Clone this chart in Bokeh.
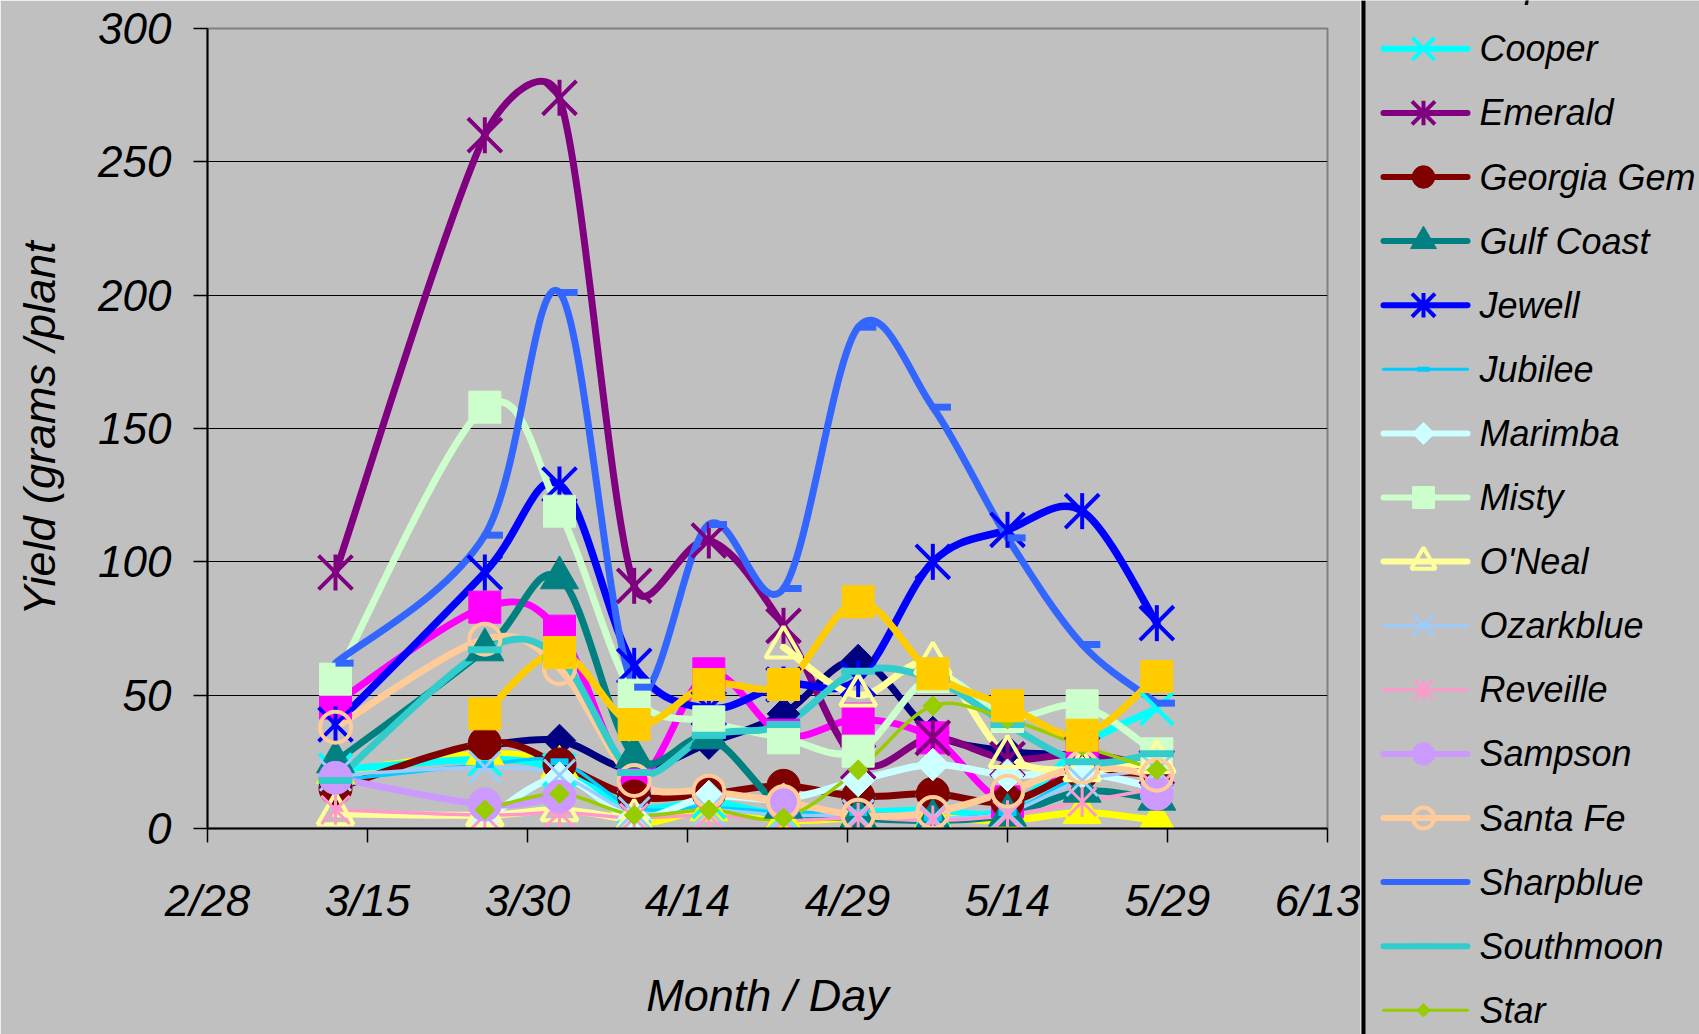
import numpy as np
import pandas as pd
from bokeh.plotting import figure
from bokeh.models import Range1d, FixedTicker, ColumnDataSource, Span
from bokeh.layouts import row
from bokeh.core.properties import value
from bokeh.transform import dodge
from bokeh.embed import file_html
from bokeh.resources import INLINE

# ---------------- data ----------------
dates = ["3/12", "3/26", "4/2", "4/9", "4/16", "4/23", "4/30", "5/7", "5/14", "5/21", "5/28"]
tick_labels = ["2/28", "3/15", "3/30", "4/14", "4/29", "5/14", "5/29", "6/13"]

bladen      = [None, 31, 33, 22, 32, 43, 63, 36, 29, 27, 20]
blueridge   = [47, 83, 74, 19, 58, 35, 41, 34, 10, 27, 22]
cape_fear   = [21, 28, 23, 3, 7, 3, 4, 4, 3, 6, 3]
cooper      = [22, 26, 22, 8, 10, 5, 6, 7, 7, 31, 45]
emerald     = [96, 260, 274, 91, 108, 76, 25, 34, 26, 28, 23]
georgia_gem = [15, 32, 24, 12, 13, 16, 12, 13, 10, 21, 20]
gulf_coast  = [25, 67, 94, 27, 34, 8, 4, 3, 5, 14, 11]
jewell      = [39, 96, 129, 61, 45, 54, 56, 100, 112, 119, 77]
jubilee     = [18, 24, 25, 8, 8, 6, 6, 4, 6, 20, 25]
marimba     = [None, 3, 19, 4, 12, 11, 18, 24, 20, 21, 15]
misty       = [56, 158, 119, 50, 40, 34, 29, 57, 42, 46, 28]
oneal       = [5.5, 5, 7, 3, None, 68, 50, 62, 27, 22, 25]
ozarkblue   = [20, 23, 20, 6, 7, 5, 5, 4, 6, 18, 22]
reveille    = [7, 5, 6, 4, 5, 3, 4, 3, 5, 10, 15]
sampson     = [19, 9, 12, None, None, 9, None, None, None, None, 13]
santa_fe    = [38, 71, 60, 18, 14, 10, 5, 6, 14, 23, 20]
sharpblue   = [62, 110, 201, 53, 114, 90, 188, 158, 109, 69, 47]
southmoon   = [18, 67, 64, 21, 35, 39, 59, 56, 39, 25, 28]
star        = [None, 7, 13, 5, 7, 4, 22, 46, 41, 31, 22]
windsor     = [None, 43, 66, 39, 54, 54, 85, 58, 46, 35, 57]

series_names = ["Bladen", "Blueridge", "Cape Fear", "Cooper", "Emerald", "Georgia Gem",
                "Gulf Coast", "Jewell", "Jubilee", "Marimba", "Misty", "O'Neal",
                "Ozarkblue", "Reveille", "Sampson", "Santa Fe", "Sharpblue",
                "Southmoon", "Star", "Windsor"]
series_values = [bladen, blueridge, cape_fear, cooper, emerald, georgia_gem, gulf_coast,
                 jewell, jubilee, marimba, misty, oneal, ozarkblue, reveille, sampson,
                 santa_fe, sharpblue, southmoon, star, windsor]

# ---------------- styles ----------------
colors = ["#000080", "#FF00FF", "#FFFF00", "#00FFFF", "#800080", "#800000", "#008080",
          "#0000FF", "#00CCFF", "#CCFFFF", "#CCFFCC", "#FFFF99", "#99CCFF", "#FF99CC",
          "#CC99FF", "#FFCC99", "#3366FF", "#33CCCC", "#99CC00", "#FFCC00"]
# (kind, size, marker line width)
markers = [("diamond", 23, 1), ("square", 32, 1), ("triangle", 38, 1), ("x", 46, 4),
           ("asterisk", 36, 4), ("circle", 33, 1), ("triangle", 38, 1), ("asterisk", 36, 4),
           ("dash", 18, 7), ("diamond", 23, 1), ("square", 32, 1), ("otriangle", 36, 4),
           ("x", 44, 3), ("asterisk", 30, 3), ("circle", 33, 1), ("ocircle", 31, 4),
           ("rdash", 18, 7), ("dash", 34, 7), ("diamond", 14, 1), ("square", 32, 1)]
line_widths = [7, 7, 7, 7, 7, 7, 7, 7.5, 3.5, 7, 7, 7, 3.5, 3.5, 7, 7, 7, 7, 3.5, 7]

BG = "#C0C0C0"
FONT = "Liberation Sans"

base = pd.Timestamp("2001-02-28")


def to_day(s):
    m, d = s.split("/")
    return float((pd.Timestamp(year=2001, month=int(m), day=int(d)) - base).days)


xd = np.array([to_day(s) for s in dates])
tick_days = [to_day(s) for s in tick_labels]

X0, X1 = tick_days[0], tick_days[-1]
Y0, Y1 = 0, 300
FW, FH = 1120, 800
SX, SY = FW / (X1 - X0), FH / (Y1 - Y0)


def runs(xs, ys):
    """split a series into contiguous runs of present values"""
    out, cur = [], []
    for x, y in zip(xs, ys):
        if y is None:
            if cur:
                out.append(cur)
            cur = []
        else:
            cur.append((x, y))
    if cur:
        out.append(cur)
    return out


def smooth(run_list):
    out = {k: [] for k in ("x0", "y0", "x1", "y1", "cx0", "cy0", "cx1", "cy1")}
    for r in run_list:
        P = np.array([[x * SX, y * SY] for x, y in r])
        n = len(P)
        for i in range(n - 1):
            p0, p1, p2, p3 = P[max(i - 1, 0)], P[i], P[i + 1], P[min(i + 2, n - 1)]
            L = np.hypot(*(p2 - p1))
            a = (p2 - p0) / 6.0
            b = (p3 - p1) / 6.0
            for v in (a, b):
                lv = np.hypot(*v)
                if lv > L / 2 and lv > 0:
                    v *= (L / 2) / lv
            c1, c2 = p1 + a, p2 - b
            out["x0"].append(p1[0] / SX); out["y0"].append(p1[1] / SY)
            out["x1"].append(p2[0] / SX); out["y1"].append(p2[1] / SY)
            out["cx0"].append(c1[0] / SX); out["cy0"].append(c1[1] / SY)
            out["cx1"].append(c2[0] / SX); out["cy1"].append(c2[1] / SY)
    return ColumnDataSource(out)


def draw_marker(fig, src, kind, size, lw, color, dash_offset=None):
    if kind == "diamond":
        fig.scatter("x", "y", source=src, marker="square", angle=np.pi / 4, size=size,
                    fill_color=color, line_color=color, line_width=lw)
    elif kind == "square":
        fig.scatter("x", "y", source=src, marker="square", size=size,
                    fill_color=color, line_color=color, line_width=lw)
    elif kind == "triangle":
        fig.scatter("x", "y", source=src, marker="triangle", size=size,
                    fill_color=color, line_color=color, line_width=lw)
    elif kind == "otriangle":
        fig.scatter("x", "y", source=src, marker="triangle", size=size,
                    fill_color=None, line_color=color, line_width=lw)
    elif kind == "circle":
        fig.scatter("x", "y", source=src, marker="circle", size=size,
                    fill_color=color, line_color=color, line_width=lw)
    elif kind == "ocircle":
        fig.scatter("x", "y", source=src, marker="circle", size=size,
                    fill_color=None, line_color=color, line_width=lw)
    elif kind == "x":
        fig.scatter("x", "y", source=src, marker="x", size=size,
                    line_color=color, line_width=lw)
    elif kind == "asterisk":
        fig.scatter("x", "y", source=src, marker="x", size=size * 1.33,
                    line_color=color, line_width=lw)
        fig.scatter("x", "y", source=src, marker="dash", angle=np.pi / 2, size=size,
                    line_color=color, line_width=lw)
    elif kind == "dash":
        fig.scatter("x", "y", source=src, marker="dash", size=size,
                    line_color=color, line_width=lw)
    elif kind == "rdash":
        if dash_offset is None:
            fig.scatter("x", "y", source=src, marker="dash", size=size,
                        line_color=color, line_width=lw)
        else:
            fig.segment(x0="x", y0="y", x1=dodge("x", dash_offset), y1="y", source=src,
                        line_color=color, line_width=lw)


# ---------------- main chart ----------------
W_TOTAL, H = 1699, 1034
W_MAIN = 1360
LEFT, TOP = 207, 28
p = figure(width=W_MAIN, height=H, x_range=Range1d(X0, X1), y_range=Range1d(Y0, Y1),
           output_backend="svg", toolbar_location=None,
           min_border_left=LEFT, min_border_right=W_MAIN - LEFT - FW,
           min_border_top=TOP, min_border_bottom=H - TOP - FH,
           background_fill_color=BG, border_fill_color=BG,
           outline_line_color="#808080", outline_line_width=2)

p.xgrid.visible = False
p.ygrid.ticker = FixedTicker(ticks=[50, 100, 150, 200, 250])
p.ygrid.grid_line_color = "#000000"
p.ygrid.grid_line_width = 1

p.xaxis.ticker = FixedTicker(ticks=tick_days)
p.xaxis.major_label_overrides = {d: lab for d, lab in zip(tick_days, tick_labels)}
p.yaxis.ticker = FixedTicker(ticks=[0, 50, 100, 150, 200, 250, 300])
for ax in (p.xaxis, p.yaxis):
    ax.axis_line_color = "#000000"
    ax.axis_line_width = 2
    ax.major_tick_line_color = "#000000"
    ax.major_tick_line_width = 1.5
    ax.major_tick_out = 14
    ax.major_tick_in = 0
    ax.minor_tick_line_color = None
    ax.major_label_text_font = FONT
    ax.major_label_text_font_style = "italic"
    ax.major_label_text_font_size = "44px"
    ax.major_label_text_color = "#000000"
    ax.axis_label_text_font = FONT
    ax.axis_label_text_font_style = "italic"
    ax.axis_label_text_font_size = "45px"
    ax.axis_label_text_color = "#000000"
p.xaxis.major_label_standoff = 33
p.yaxis.major_label_standoff = 22
p.xaxis.axis_label = "Month / Day"
p.yaxis.axis_label = "Yield (grams /plant"
p.xaxis.axis_label_standoff = 42
p.yaxis.axis_label_standoff = 30

series_runs = [runs(xd, vals) for vals in series_values]

# lines first
for rl, c, lw in zip(series_runs, colors, line_widths):
    p.bezier(x0="x0", y0="y0", x1="x1", y1="y1", cx0="cx0", cy0="cy0", cx1="cx1", cy1="cy1",
             source=smooth(rl), line_color=c, line_width=lw, line_cap="round")
# then markers
for rl, c, (kind, size, mlw) in zip(series_runs, colors, markers):
    pts = [pt for r in rl for pt in r]
    src = ColumnDataSource(dict(x=[pt[0] for pt in pts], y=[pt[1] for pt in pts]))
    draw_marker(p, src, kind, size, mlw, c, dash_offset=1.7)

# ---------------- legend panel ----------------
W_LEG = W_TOTAL - W_MAIN
lg = figure(width=W_LEG, height=H, x_range=Range1d(0, W_LEG), y_range=Range1d(H, 0),
            output_backend="svg", toolbar_location=None, min_border=0,
            x_axis_type=None, y_axis_type=None,
            background_fill_color=BG, border_fill_color=BG, outline_line_color=None)
lg.grid.visible = False
for fig in (p, lg):
    if "frame_align" in fig.properties():
        fig.frame_align = False
lg.add_layout(Span(location=3, dimension="height", line_color="#000000", line_width=4))

ROW0, ROW_STEP = 48.3 - 3 * 64.1, 64.1
ly = [ROW0 + i * ROW_STEP for i in range(len(series_names))]
for i, (name, c, lw, (kind, size, mlw)) in enumerate(zip(series_names, colors, line_widths, markers)):
    y = ly[i]
    lg.segment(x0=[23], y0=[y], x1=[107], y1=[y], line_color=c,
               line_width=6 if lw >= 6 else 3, line_cap="round")
    src = ColumnDataSource(dict(x=[63], y=[y]))
    draw_marker(lg, src, kind, size * 0.68, mlw if mlw < 5 else 5, c)
    lg.text(x=[119], y=[y], text=[name], text_font=value(FONT), text_font_style="italic",
            text_font_size="36px", text_baseline="middle", text_align="left",
            text_color="#000000")

layout = row(p, lg)
open("out.html", "w").write(file_html(layout, INLINE))
